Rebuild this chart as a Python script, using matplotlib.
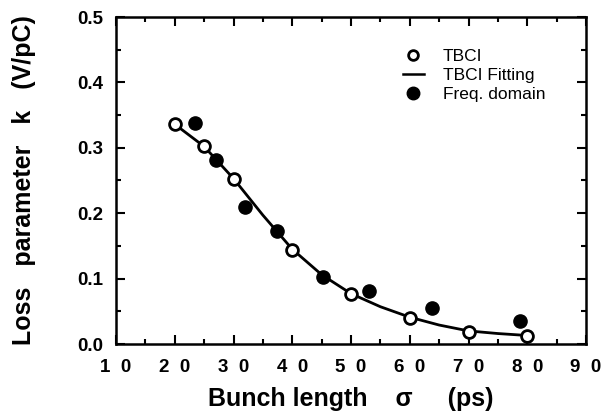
import matplotlib
matplotlib.use("Agg")
import matplotlib.pyplot as plt
from matplotlib.ticker import MultipleLocator, FixedLocator
from matplotlib.lines import Line2D

# Data
tbci_x = [20, 25, 30, 40, 50, 60, 70, 80]
tbci_y = [0.336, 0.302, 0.252, 0.144, 0.077, 0.040, 0.019, 0.012]

fit_x = [20, 25, 30, 35, 40, 45, 50, 55, 60, 65, 70, 75, 80]
fit_y = [0.336, 0.302, 0.253, 0.197, 0.145, 0.106, 0.077, 0.057, 0.041, 0.029, 0.020, 0.016, 0.013]

freq_x = [23.4, 27.0, 32.0, 37.4, 45.3, 53.1, 63.8, 78.8]
freq_y = [0.338, 0.281, 0.209, 0.173, 0.102, 0.081, 0.055, 0.035]

xticks = [10, 20, 30, 40, 50, 60, 70, 80, 90]
xtick_labels = ["1  0", "2  0", "3  0", "4  0", "5  0", "6  0", "7  0", "8  0", "9  0"]
yticks = [0.0, 0.1, 0.2, 0.3, 0.4, 0.5]
ytick_labels = ["0.0", "0.1", "0.2", "0.3", "0.4", "0.5"]

plt.rcParams['font.family'] = ['Liberation Sans', 'DejaVu Sans']

W, H = 604, 415
fig = plt.figure(figsize=(W / 100, H / 100), dpi=100)
ax = fig.add_axes([116 / W, 1 - 344 / H, (586 - 116) / W, (344 - 17) / H])

ax.plot(fit_x, fit_y, color='black', lw=2.0, zorder=2, label='TBCI Fitting')
ax.plot(tbci_x, tbci_y, 'o', mfc='white', mec='black', mew=2.0, ms=8.5, zorder=3, label='TBCI')
ax.plot(freq_x, freq_y, 'o', color='black', ms=9.5, zorder=3, label='Freq. domain')

ax.set_xlim(10, 90)
ax.set_ylim(0, 0.5)
ax.xaxis.set_major_locator(FixedLocator(xticks))
ax.set_xticklabels(xtick_labels)
ax.yaxis.set_major_locator(FixedLocator(yticks))
ax.set_yticklabels(ytick_labels)
ax.xaxis.set_minor_locator(MultipleLocator(5))
ax.yaxis.set_minor_locator(MultipleLocator(0.05))

ax.tick_params(which='both', direction='in', top=True, right=True, width=1.5)
ax.tick_params(which='major', length=6.5)
ax.tick_params(which='minor', length=3.5)
ax.tick_params(axis='x', which='major', pad=11, labelsize=13.5)
ax.tick_params(axis='y', which='major', pad=9, labelsize=13.5)
for lab in ax.get_xticklabels() + ax.get_yticklabels():
    lab.set_fontweight('bold')

for s in ax.spines.values():
    s.set_linewidth(1.8)

ax.set_xlabel("Bunch length    \u03c3     (ps)", fontsize=18, fontweight='bold', labelpad=8)
ax.set_ylabel("Loss   parameter   k   (V/pC)", fontsize=18, fontweight='bold', labelpad=30)

handles = [
    Line2D([], [], ls='none', marker='o', mfc='white', mec='black', mew=2.0, ms=7),
    Line2D([], [], color='black', lw=1.8),
    Line2D([], [], ls='none', marker='o', color='black', ms=9),
]
labels = ['TBCI', 'TBCI Fitting', 'Freq. domain']
leg = ax.legend(handles, labels, loc='upper left', bbox_to_anchor=(403 / W, 1 - 49 / H),
                bbox_transform=fig.transFigure, frameon=False, fontsize=12.5,
                handlelength=1.2, handletextpad=1.1, labelspacing=0.22, borderpad=0,
                borderaxespad=0)

fig.savefig("out.png", dpi=100)
